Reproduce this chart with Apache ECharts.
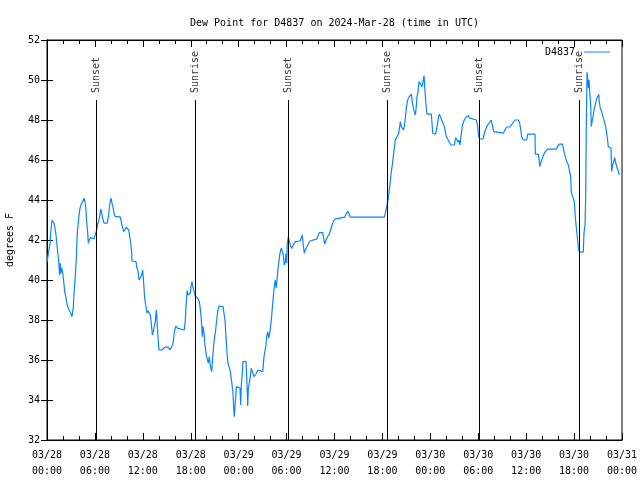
<!DOCTYPE html>
<html><head><meta charset="utf-8">
<script src="https://cdn.jsdelivr.net/npm/echarts@6/dist/echarts.min.js"></script>
<style>html,body{margin:0;padding:0;background:#fff}#c{width:640px;height:480px}</style>
</head><body><div id="c"></div>
<script>
// hours since 2024-03-28 00:00 UTC
var dewHours = [0.00,0.13,0.21,0.38,0.46,0.63,0.75,0.88,1.00,1.13,1.25,1.38,1.50,1.59,1.67,1.75,1.84,1.97,2.09,2.22,2.38,2.54,2.75,2.97,3.13,3.29,3.38,3.54,3.67,3.79,3.97,4.13,4.30,4.47,4.63,4.76,4.88,4.97,5.10,5.17,5.30,5.42,5.67,5.89,6.10,6.22,6.30,6.42,6.60,6.72,6.85,6.97,7.14,7.55,7.73,7.85,8.01,8.14,8.26,8.39,8.55,8.89,9.18,9.30,9.43,9.60,9.77,9.93,10.11,10.23,10.36,10.48,10.61,10.64,10.89,11.14,11.23,11.40,11.52,11.73,11.86,11.98,12.06,12.15,12.23,12.36,12.52,12.61,12.77,12.94,13.06,13.19,13.31,13.44,13.56,13.69,13.77,13.86,13.94,14.02,14.36,14.61,14.78,14.99,15.19,15.40,15.61,15.78,15.90,16.03,16.15,16.32,16.53,17.19,17.32,17.41,17.49,17.57,17.66,17.94,18.03,18.16,18.24,18.32,18.45,18.57,18.75,18.95,19.07,19.16,19.25,19.37,19.45,19.53,19.66,19.78,19.91,20.04,20.12,20.20,20.32,20.50,20.62,20.75,20.87,21.00,21.12,21.25,21.37,21.54,22.04,22.16,22.29,22.41,22.54,22.66,22.79,22.92,23.04,23.17,23.29,23.38,23.45,23.54,23.63,23.70,23.95,24.17,24.25,24.33,24.46,24.54,24.92,25.04,25.13,25.21,25.33,25.46,25.58,25.76,25.92,26.17,26.42,26.67,27.01,27.17,27.42,27.51,27.64,27.76,27.92,28.09,28.21,28.34,28.46,28.59,28.71,28.84,28.96,29.09,29.21,29.34,29.46,29.59,29.71,29.84,29.93,30.02,30.09,30.22,30.34,30.52,30.64,30.84,31.09,31.34,31.68,31.84,31.97,32.09,32.22,32.34,32.52,32.72,32.93,33.15,33.77,33.93,34.10,34.31,34.52,34.65,34.77,34.94,35.15,35.35,35.52,35.69,35.85,36.06,36.19,37.28,37.44,37.65,37.82,37.98,42.24,42.36,42.54,42.61,42.74,42.86,42.99,43.11,43.24,43.36,43.49,43.61,43.74,43.91,44.04,44.16,44.24,44.37,44.49,44.62,44.74,44.87,44.99,45.12,45.24,45.42,45.62,45.74,45.87,45.99,46.12,46.24,46.33,46.46,46.58,46.71,46.83,46.96,47.08,47.21,47.33,47.46,47.58,48.12,48.21,48.30,48.67,48.84,49.00,49.12,49.25,49.42,49.59,49.75,49.88,50.00,50.18,50.43,50.55,51.00,51.18,51.34,51.46,51.59,51.72,51.84,51.97,52.09,52.25,52.43,52.59,52.76,52.93,53.13,53.76,53.93,54.06,54.18,54.60,54.72,54.85,55.06,55.26,55.47,55.64,55.76,55.94,56.10,57.14,57.35,57.56,57.98,58.19,58.39,58.60,59.02,59.19,59.32,59.44,59.64,60.07,60.19,61.11,61.15,61.52,61.65,61.70,61.82,61.95,62.15,62.36,62.70,63.74,63.95,64.15,64.53,64.65,64.78,64.95,65.08,65.15,65.28,65.40,65.58,65.65,65.90,66.03,66.15,66.28,66.40,66.53,66.65,67.15,67.24,67.37,67.45,67.53,67.62,67.71,67.78,67.87,67.96,68.08,68.16,68.28,68.41,68.53,68.66,68.78,68.96,69.08,69.16,69.28,69.46,69.62,69.79,69.96,70.08,70.21,70.28,70.62,70.71,70.83,70.96,71.08,71.21,71.28,71.41,71.53,71.66];
var dewValues = [40.90,40.84,41.42,41.84,42.34,43.00,42.92,42.84,42.59,42.25,41.75,41.25,40.75,40.25,40.84,40.34,40.59,40.34,39.92,39.42,39.09,38.75,38.50,38.34,38.17,38.59,39.34,40.17,41.09,42.34,43.09,43.59,43.80,43.92,44.09,43.92,43.50,42.92,42.34,41.84,42.00,42.12,42.12,42.07,42.07,42.50,42.67,42.92,43.17,43.54,43.34,43.09,42.84,42.84,43.30,43.75,44.09,43.84,43.67,43.34,43.17,43.17,43.14,42.92,42.67,42.42,42.50,42.64,42.70,42.50,42.17,41.84,41.34,40.95,40.95,40.92,40.67,40.42,40.00,40.09,40.25,40.50,40.09,39.59,39.09,38.75,38.35,38.47,38.42,38.25,37.84,37.25,37.42,37.50,37.92,38.50,38.00,37.42,36.92,36.50,36.50,36.54,36.64,36.72,36.64,36.50,36.50,36.80,37.25,37.54,37.70,37.59,37.50,37.50,38.00,38.67,39.17,39.47,39.25,39.34,39.67,39.92,39.70,39.59,39.34,39.20,39.14,39.04,38.92,38.67,38.34,37.75,37.17,37.67,37.34,36.75,36.34,36.09,36.17,35.84,36.17,35.59,35.42,36.09,36.75,37.17,37.50,38.00,38.42,38.70,38.67,38.59,38.00,37.17,36.34,35.84,35.67,35.50,35.17,34.75,34.34,33.59,33.17,33.67,34.17,34.67,34.67,34.59,33.75,34.75,35.34,35.92,35.92,34.84,33.70,34.59,34.84,35.17,35.59,35.50,35.17,35.30,35.50,35.60,35.42,36.17,36.75,37.17,37.42,37.09,37.42,38.00,38.59,39.17,39.67,40.00,39.59,40.17,40.67,41.09,41.42,41.59,41.67,41.25,40.75,40.92,41.34,40.84,41.84,42.17,41.92,41.70,41.57,41.75,41.92,41.95,41.95,42.09,42.25,41.75,41.34,41.50,41.64,41.80,41.95,42.04,42.04,42.20,42.37,42.40,42.37,42.09,41.80,42.00,42.17,42.30,42.50,42.75,42.92,43.04,43.12,43.14,43.30,43.44,43.30,43.14,43.14,43.34,43.67,43.75,44.09,44.50,44.92,45.42,45.75,46.17,46.59,47.00,47.09,47.22,47.34,47.67,47.92,47.67,47.75,47.50,47.67,48.09,48.59,48.92,49.09,49.17,49.29,48.92,48.59,48.42,48.25,48.67,49.17,49.42,49.92,49.97,49.84,49.67,49.92,50.22,49.42,48.75,48.29,48.29,47.84,47.34,47.29,47.67,48.09,48.29,48.17,48.00,47.84,47.67,47.42,47.17,47.05,46.95,46.75,46.75,47.12,47.05,46.89,47.00,46.75,47.17,47.59,47.84,48.00,48.12,48.22,48.22,48.09,48.00,48.00,47.67,47.17,47.05,47.05,47.25,47.45,47.67,47.79,47.89,48.00,47.75,47.42,47.34,47.34,47.50,47.65,47.65,47.75,47.89,48.00,48.00,47.84,47.50,47.17,47.00,47.00,47.29,47.29,46.29,46.29,45.92,45.67,45.84,46.00,46.22,46.39,46.54,46.54,46.67,46.79,46.79,46.59,46.34,46.09,45.92,46.00,45.75,45.50,45.17,44.39,44.39,43.92,43.17,42.62,42.17,41.67,41.39,41.39,42.34,42.75,44.09,47.67,50.39,50.09,49.59,50.00,49.42,48.75,47.67,48.00,48.25,48.59,48.75,49.00,49.17,49.29,48.92,48.59,48.42,48.17,47.92,47.67,47.34,46.95,46.67,46.59,45.42,45.75,45.92,46.12,46.17,45.75,45.59,45.45,45.25];
var sunsetHours = [6.15, 30.25, 54.13];
var sunriseHours = [18.57, 42.57, 66.62];
var xTickLabels = ['03/28\n00:00','03/28\n06:00','03/28\n12:00','03/28\n18:00','03/29\n00:00','03/29\n06:00','03/29\n12:00','03/29\n18:00','03/30\n00:00','03/30\n06:00','03/30\n12:00','03/30\n18:00','03/31\n00:00'];
var seriesName = 'D4837';
var titleText = 'Dew Point for D4837 on 2024-Mar-28 (time in UTC)';
var yName = 'degrees F';
var sunLineTop = 49;

var FONT = 'DejaVu Sans Mono';
var dew = dewHours.map(function (h, i) { return [h, dewValues[i]]; });
var sunLines = [];
var sunLabels = [];
sunsetHours.forEach(function (h) {
  sunLines.push([{ xAxis: h, yAxis: 32 }, { xAxis: h, yAxis: sunLineTop }]);
  sunLabels.push({ value: [h, sunLineTop], name: 'Sunset' });
});
sunriseHours.forEach(function (h) {
  sunLines.push([{ xAxis: h, yAxis: 32 }, { xAxis: h, yAxis: sunLineTop }]);
  sunLabels.push({ value: [h, sunLineTop], name: 'Sunrise' });
});

var chart = echarts.init(document.getElementById('c'), null, { renderer: 'canvas' });
var axisCommon = {
  axisLine: { show: true, lineStyle: { color: '#000', width: 1 } },
  splitLine: { show: false }
};
chart.setOption({
  animation: false,
  backgroundColor: '#fff',
  textStyle: { fontFamily: FONT, fontSize: 10, color: '#000' },
  title: {
    text: titleText, left: 185, top: 13,
    textStyle: { fontFamily: FONT, fontSize: 10, fontWeight: 'normal', color: '#000' }
  },
  legend: {
    data: [seriesName], right: 25, top: 42, align: 'right',
    icon: 'rect', itemWidth: 26, itemHeight: 1, itemGap: 10,
    textStyle: { fontFamily: FONT, fontSize: 10, color: '#000', padding: [0, 4, 0, 0] }
  },
  grid: { left: 47, right: 18, top: 40, bottom: 40, show: true, borderColor: '#000', borderWidth: 1, containLabel: false, outerBoundsMode: 'none' },
  xAxis: [
    Object.assign({}, axisCommon, {
      type: 'value', min: 0, max: 72, interval: 6, position: 'bottom',
      axisTick: { show: true, inside: true, length: 7, lineStyle: { color: '#000' } },
      minorTick: { show: true, splitNumber: 3, length: 4, lineStyle: { color: '#000' } },
      axisLabel: {
        margin: 7, fontFamily: FONT, fontSize: 10, color: '#000', lineHeight: 16,
        formatter: function (v) { return xTickLabels[Math.round(v / 6)]; }
      }
    }),
    Object.assign({}, axisCommon, {
      type: 'value', min: 0, max: 72, interval: 6, position: 'top',
      axisTick: { show: true, inside: true, length: 7, lineStyle: { color: '#000' } },
      minorTick: { show: true, splitNumber: 3, length: 4, lineStyle: { color: '#000' } },
      axisLabel: { show: false }
    })
  ],
  yAxis: [
    Object.assign({}, axisCommon, {
      type: 'value', min: 32, max: 52, interval: 2, position: 'left',
      name: yName, nameLocation: 'middle', nameGap: 32, nameRotate: 90,
      nameTextStyle: { fontFamily: FONT, fontSize: 10, color: '#000' },
      axisTick: { show: true, inside: true, length: 6, lineStyle: { color: '#000' } },
      axisLabel: { margin: 7, fontFamily: FONT, fontSize: 10, color: '#000' }
    }),
    Object.assign({}, axisCommon, {
      type: 'value', min: 32, max: 52, interval: 2, position: 'right',
      axisTick: { show: true, inside: true, length: 6, lineStyle: { color: '#000' } },
      axisLabel: { show: false }
    })
  ],
  series: [
    {
      name: seriesName, type: 'line', data: dew, showSymbol: false, symbol: 'none',
      color: '#0A84FF', lineStyle: { width: 1.2, color: '#0A84FF' }, z: 3,
      markLine: {
        silent: true, symbol: ['none', 'none'], animation: false,
        lineStyle: { color: '#000', width: 1, type: 'solid' },
        label: { show: false }, emphasis: { disabled: true },
        data: sunLines
      }
    },
    {
      name: 'sun', type: 'scatter', data: sunLabels, symbolSize: 0, silent: true,
      label: {
        show: true, formatter: function (p) { return p.name; }, position: 'top', distance: 7,
        rotate: 90, align: 'left', verticalAlign: 'middle',
        fontFamily: FONT, fontSize: 10, color: '#000'
      }
    }
  ]
});
</script></body></html>
